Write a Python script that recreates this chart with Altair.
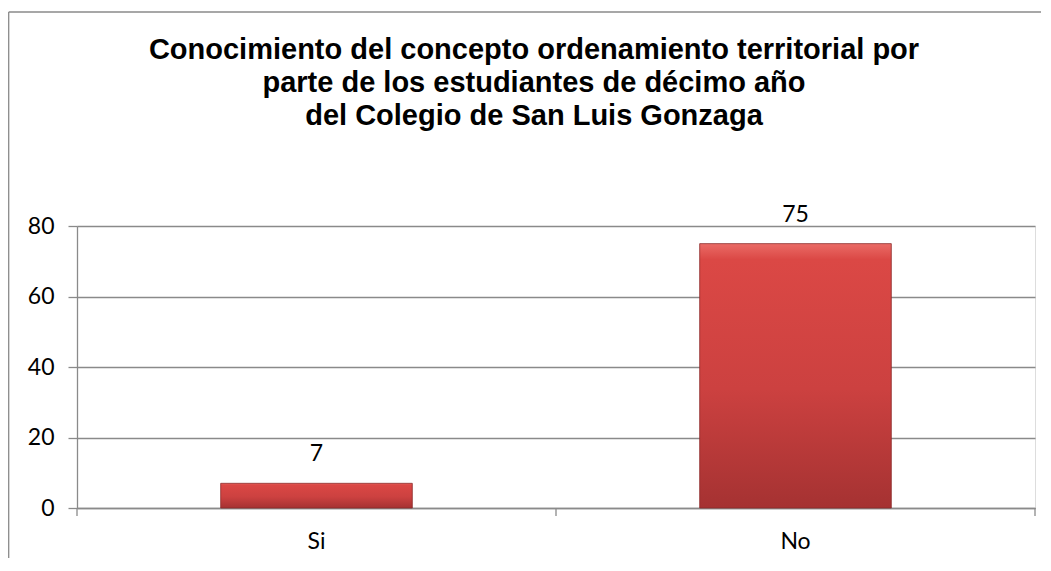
import altair as alt
import pandas as pd

categories = ["Si", "No"]
values = [7, 75]
y_ticks = [0, 20, 40, 60, 80]
title_lines = [
    "Conocimiento del concepto ordenamiento territorial por",
    "parte de los estudiantes de décimo año",
    "del Colegio de San Luis Gonzaga",
]

df = pd.DataFrame({"cat": categories, "val": values})

W, H = 958, 282
GRAY = "#8a8a8a"
LABEL_FONT = "Lato"

xscale = alt.Scale(domain=categories, paddingInner=0, paddingOuter=0)
yscale = alt.Scale(domain=[0, 80], nice=False)

base = alt.Chart(df)

bars = base.mark_bar(
    width=alt.RelativeBandSize(0.4),
    stroke="#8c2a2a",
    strokeWidth=0.8,
    fill=alt.Gradient(
        gradient="linear",
        x1=0, x2=0, y1=0, y2=1,
        stops=[
            alt.GradientStop(color="#ea6b66", offset=0),
            alt.GradientStop(color="#db4845", offset=0.06),
            alt.GradientStop(color="#cc4140", offset=0.55),
            alt.GradientStop(color="#a53232", offset=1),
        ],
    ),
).encode(
    x=alt.X(
        "cat:N",
        sort=categories,
        scale=xscale,
        title=None,
        axis=alt.Axis(
            labelAngle=0,
            ticks=False,
            labelPadding=22,
            labelFont=LABEL_FONT,
            labelFontSize=23,
            labelColor="black",
            domainColor=GRAY,
            domainWidth=1.3,
            grid=False,
        ),
    ),
    y=alt.Y(
        "val:Q",
        scale=yscale,
        title=None,
        axis=alt.Axis(
            values=y_ticks,
            tickSize=9,
            tickColor=GRAY,
            tickWidth=1.3,
            labelPadding=14,
            labelFont=LABEL_FONT,
            labelFontSize=23,
            labelColor="black",
            domainColor=GRAY,
            domainWidth=1.3,
            gridColor=GRAY,
            gridWidth=1.3,
            gridOpacity=1,
        ),
    ),
)

labels = base.mark_text(
    baseline="bottom", dy=-17, font=LABEL_FONT, fontSize=23, color="black"
).encode(
    x=alt.X("cat:N", sort=categories, scale=xscale),
    y=alt.Y("val:Q", scale=yscale),
    text=alt.Text("val:Q"),
)

ticks = base.mark_rule(color=GRAY, strokeWidth=1.3).encode(
    x=alt.X("cat:N", sort=categories, scale=xscale, bandPosition=0),
    y=alt.value(H),
    y2=alt.value(H + 8),
)

one = alt.Chart(alt.Data(values=[{"k": 1}]))
end_tick = one.mark_rule(color=GRAY, strokeWidth=1.3).encode(
    x=alt.value(W), y=alt.value(H), y2=alt.value(H + 8)
)
border_top = one.mark_rule(color=GRAY, strokeWidth=1.3).encode(
    x=alt.value(-68.3), x2=alt.value(990), y=alt.value(-214), y2=alt.value(-214)
)
border_left = one.mark_rule(color=GRAY, strokeWidth=1.3).encode(
    x=alt.value(-68.3), x2=alt.value(-68.3), y=alt.value(-214), y2=alt.value(400)
)

chart = (
    alt.layer(bars, labels, ticks, end_tick, border_top, border_left)
    .properties(
        width=W,
        height=H,
        autosize=alt.AutoSizeParams(type="none"),
        padding={"left": 69, "top": 218, "right": 6, "bottom": 50},
        title=alt.TitleParams(
            text=title_lines,
            font="Liberation Sans",
            fontSize=29,
            fontWeight="bold",
            color="black",
            lineHeight=33,
            baseline="alphabetic",
            anchor="middle",
            frame="group",
            dx=-22,
            offset=-143,
        ),
    )
    .configure_view(stroke="transparent")
    .configure(background="white")
)

chart.save("out.html", embed_options={"renderer": "svg", "actions": False})
